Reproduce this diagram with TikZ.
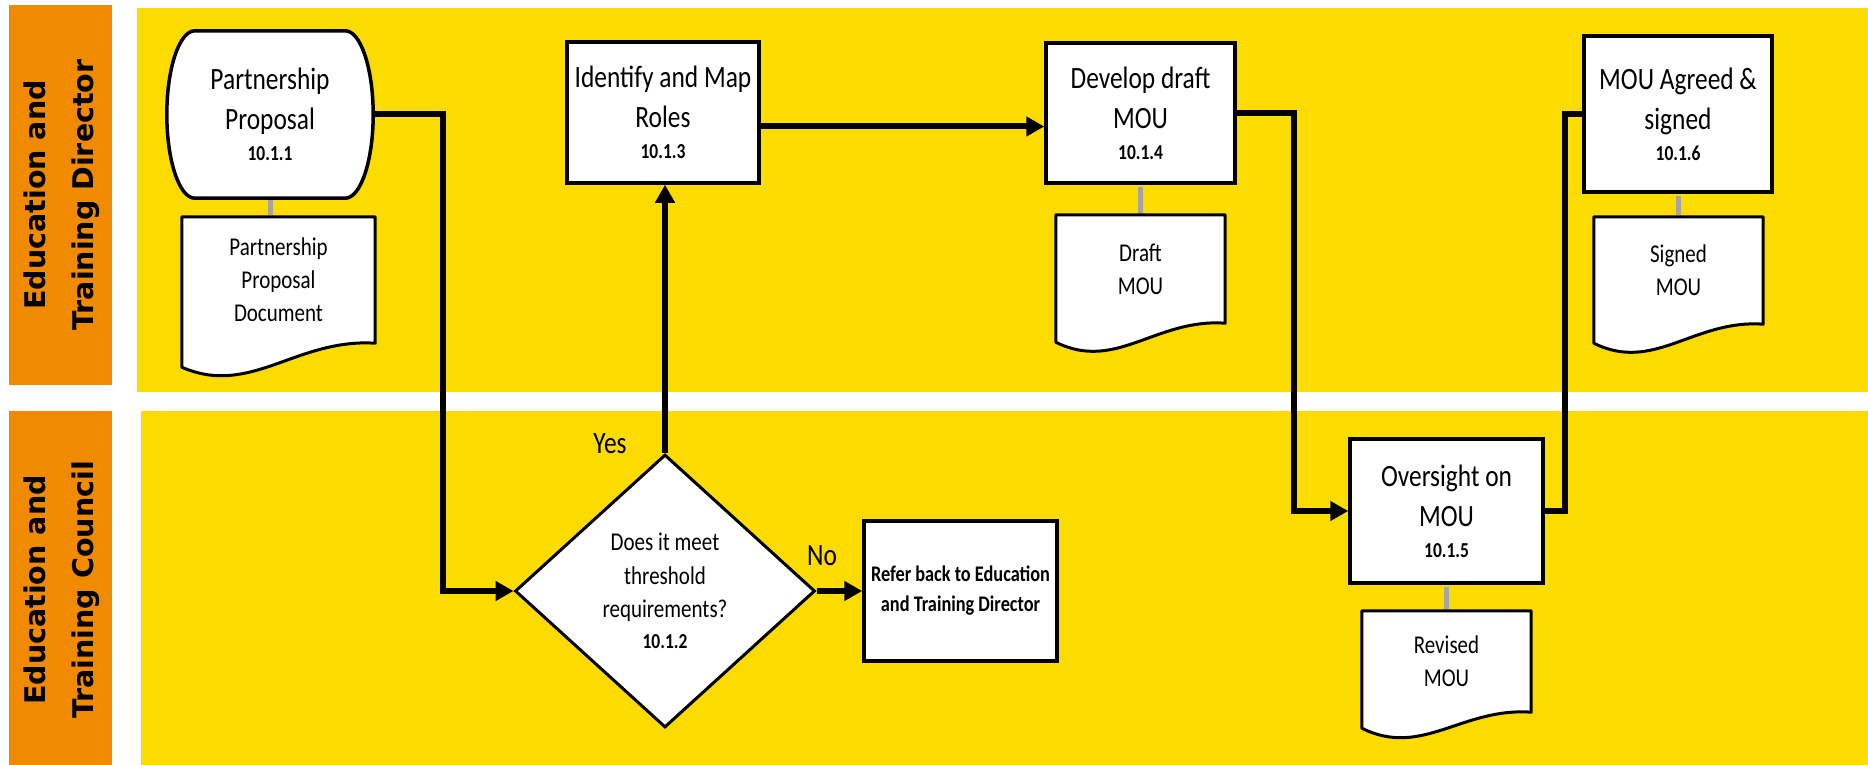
\documentclass[tikz,border=0pt]{standalone}
\usepackage{fontspec}
\setmainfont{Carlito}[FakeStretch=0.82]
\newfontfamily\lanefont{DejaVu Sans}
\usetikzlibrary{arrows.meta,calc,shapes.geometric}
\definecolor{laneyellow}{RGB}{252,220,0}
\definecolor{laneorange}{RGB}{240,138,0}
\definecolor{linkgray}{RGB}{165,165,165}
\pgfdeclarelayer{lanes}
\pgfdeclarelayer{bg}
\pgfsetlayers{lanes,bg,main}
\newcommand\bigtxt{\fontsize{31}{40}\selectfont}
\newcommand\numtxt{\bfseries\fontsize{21.3}{22}\selectfont}
\newcommand\doctxt{\fontsize{25.6}{33}\selectfont}
\newcommand\dectxt{\fontsize{25.6}{33.5}\selectfont}
\newcommand\refertxt{\bfseries\fontsize{22.3}{30}\selectfont}
\newcommand\lanetxt{\lanefont\bfseries\fontsize{28.5}{48}\selectfont}
\newcommand\docoutline[2]{%
  \draw[docline] (#1.north west) -- (#1.north east) -- (#1.south east)
    .. controls ($(#1.south west)!0.59!(#1.south east)+(0,-5)$)
           and ($(#1.south west)!0.355!(#1.south east)+(0,#2+30)$)
    .. ($(#1.south west)+(0,#2)$) -- cycle;}
\begin{document}
\begin{tikzpicture}[x=1pt,y=-1pt,
  term/.style={inner sep=0pt, align=center, font=\bigtxt, minimum width=206pt, minimum height=167pt},
  procbox/.style={draw=black, line width=3.5pt, fill=white, inner sep=0pt, align=center, font=\bigtxt},
  docnode/.style={inner sep=0pt, align=center, font=\doctxt},
  docline/.style={draw=black, line width=3pt, fill=white, line join=round},
  decision/.style={shape=diamond, draw=black, line width=3pt, fill=white, inner sep=0pt,
     minimum width=300pt, minimum height=273pt, align=center, font=\dectxt},
  flow/.style={draw=black, line width=6pt, -{Triangle[length=18pt,width=19pt]}},
  plainflow/.style={draw=black, line width=6pt},
  link/.style={draw=linkgray, line width=5pt, shorten <=1.75pt, shorten >=1.5pt},
  lbl/.style={inner sep=0pt, font=\bigtxt},
  lanetext/.style={inner sep=0pt, align=center, font=\lanetxt, rotate=90}
]
\useasboundingbox (0,0) rectangle (1868,765);
\begin{pgfonlayer}{lanes}
  \fill[white] (0,0) rectangle (1868,765);
  \fill[laneyellow] (137,8) rectangle (1868,392);
  \fill[laneyellow] (141,411) rectangle (1868,765);
  \fill[laneorange] (9,5) rectangle (112,385);
  \fill[laneorange] (9,411) rectangle (112,765);
\end{pgfonlayer}

% lane labels
\node[lanetext] (lanetop) at (62,195) {Education and\\Training Director};
\node[lanetext] (lanebot) at (62,590) {Education and\\Training Council};

% process nodes
\node[term] (pp) at (270,114.5) {Partnership\\Proposal\\[-9pt]{\numtxt 10.1.1}};
\node[procbox, minimum width=192pt, minimum height=141pt] (ident) at (663,112.5)
  {Identify and Map\\Roles\\[-9pt]{\numtxt 10.1.3}};
\node[procbox, minimum width=189pt, minimum height=140pt] (dev) at (1140.5,113)
  {Develop draft\\MOU\\[-9pt]{\numtxt 10.1.4}};
\node[procbox, minimum width=188pt, minimum height=156pt] (agr) at (1678,114)
  {MOU Agreed \&\\signed\\[-9pt]{\numtxt 10.1.6}};
\node[procbox, minimum width=193pt, minimum height=144pt] (over) at (1446.5,511)
  {Oversight on\\MOU\\[-9pt]{\numtxt 10.1.5}};
\node[procbox, font=\refertxt, minimum width=193pt, minimum height=140pt] (refer) at (960.5,591)
  {Refer back to Education\\and Training Director};
\node[decision] (dec) at (665,591)
  {Does it meet\\threshold\\requirements?\\[-3pt]{\numtxt 10.1.2}};

% documents
\node[docnode, minimum width=193pt, minimum height=126pt] (ppdoc) at (278.5,280) {Partnership\\Proposal\\Document};
\node[docnode, minimum width=169pt, minimum height=108pt] (draft) at (1140.5,269) {Draft\\MOU};
\node[docnode, minimum width=169pt, minimum height=107pt] (signed) at (1678.5,270.5) {Signed\\MOU};
\node[docnode, minimum width=169pt, minimum height=101pt] (revised) at (1446.5,661.5) {Revised\\MOU};

\begin{pgfonlayer}{bg}
  \draw[docline, line width=3.5pt] ($(pp.north west)+(28,0)$) -- ($(pp.north east)+(-28,0)$)
    .. controls +(15.5,0) and +(0,-46) .. (pp.east)
    .. controls +(0,46) and +(15.5,0) .. ($(pp.south east)+(-28,0)$)
    -- ($(pp.south west)+(28,0)$)
    .. controls +(-15.5,0) and +(0,46) .. (pp.west)
    .. controls +(0,-46) and +(-15.5,0) .. ($(pp.north west)+(28,0)$) -- cycle;
  \docoutline{ppdoc}{24}
  \docoutline{draft}{19}
  \docoutline{signed}{19}
  \docoutline{revised}{16}
\end{pgfonlayer}

% labels
\node[lbl, anchor=base] (yes) at (610,453) {Yes};
\node[lbl, anchor=base] (no) at (822,565) {No};

% connectors
\draw[flow] (pp.east) -- ++(70,0) |- (dec.west);
\draw[flow] (dec.north) -- (dec.north |- ident.south);
\coordinate (a1) at ($(ident.east)+(0,14)$);
\draw[flow] (a1) -- (a1 -| dev.west);
\draw[flow] (dev.east) -- ++(57,0) |- (over.west);
\draw[plainflow] (over.east) -- ++(20,0) |- (agr.west);
\draw[flow] (dec.east) -- (refer.west);

\draw[link] (pp.south) -- (pp.south |- ppdoc.north);
\draw[link] (dev.south) -- (dev.south |- draft.north);
\draw[link] (agr.south) -- (agr.south |- signed.north);
\draw[link] (over.south) -- (over.south |- revised.north);
\end{tikzpicture}
\end{document}
